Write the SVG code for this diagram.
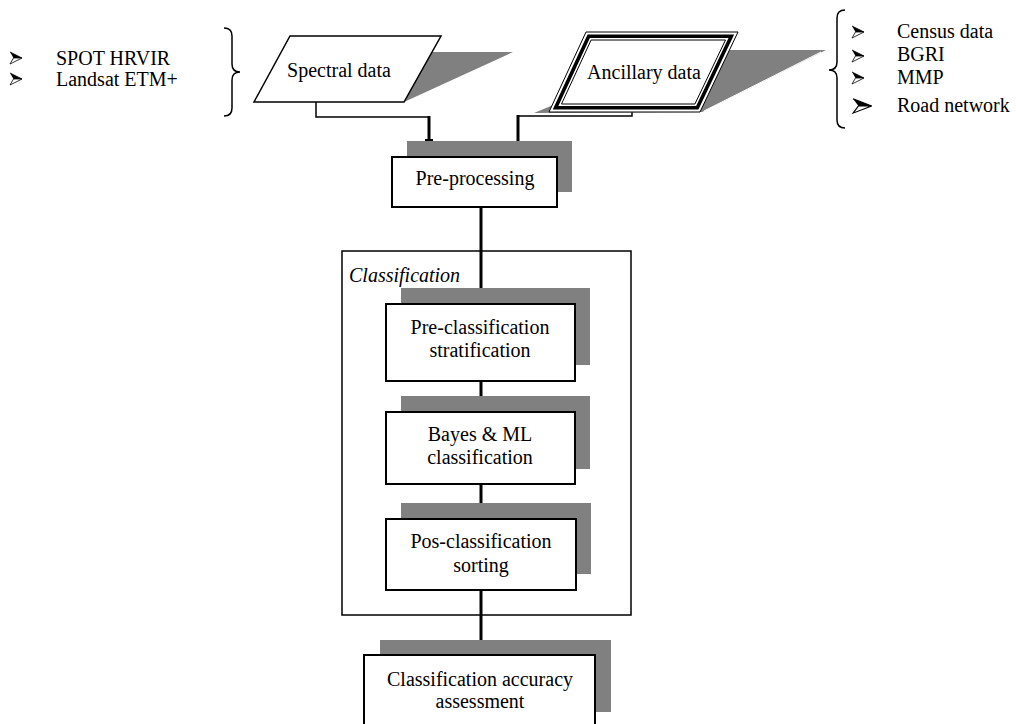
<svg xmlns="http://www.w3.org/2000/svg" xmlns:xlink="http://www.w3.org/1999/xlink" width="1016" height="724" viewBox="0 0 1016 724">
<style>
text{font-family:"Liberation Serif","Times New Roman",serif;font-size:20px;fill:#000}
.c{text-anchor:middle}
.box{fill:#fff;stroke:#000;stroke-width:2}
.sh{fill:#808080;stroke:none}
.ln{fill:none;stroke:#000;stroke-width:1.5}
.thk{fill:none;stroke:#000;stroke-width:3}
</style>
<defs>
<g id="bul">
<path d="M0,-6 L12,0 L3.5,0 Z" fill="#000"/>
<path d="M3.5,0 L12,0 L0,6 Z" fill="#fff" stroke="#000" stroke-width="0.8" stroke-linejoin="miter"/>
<path d="M0,-6 L12,0" stroke="#000" stroke-width="0.8"/>
</g>
</defs>
<rect width="1016" height="724" fill="#fff"/>

<g id="spectral-sources">
<use xlink:href="#bul" x="10" y="58"/>
<use xlink:href="#bul" x="10" y="79"/>
<text x="56" y="65">SPOT HRVIR</text>
<text x="56" y="86">Landsat ETM+</text>
<path class="ln" d="M224,28 Q232,28 232,36 V64 Q232,72 240,72 Q232,72 232,80 V108 Q232,116 224,116"/>
</g>

<g id="ancillary-sources">
<path class="ln" d="M845,10 Q837,10 837,18 V62 Q837,70 829,70 Q837,70 837,78 V120 Q837,128 845,128"/>
<use xlink:href="#bul" x="852" y="32"/>
<use xlink:href="#bul" x="852" y="56"/>
<use xlink:href="#bul" x="852" y="78"/>
<use xlink:href="#bul" transform="translate(853,106) scale(1.55,1.2)"/>
<text x="897" y="38">Census data</text>
<text x="897" y="61">BGRI</text>
<text x="897" y="84">MMP</text>
<text x="897" y="112">Road network</text>
</g>

<g id="connectors">
<path class="ln" d="M316,102 V117 H429"/>
<path class="thk" d="M429,116 V140"/>
<path d="M425,140 H433" stroke="#000" stroke-width="2"/>
<path class="ln" d="M632,103 V116 H517"/>
<path class="thk" d="M518,115 V141"/>
<path class="thk" d="M481,207 V288"/>
<path class="thk" d="M481,381 V396"/>
<path class="thk" d="M481,484 V503"/>
<path class="thk" d="M481,590 V640"/>
</g>

<g id="spectral">
<polygon class="sh" points="420,52 513,52 404,102"/>
<polygon points="290,36 441,36 404,102 254,102" fill="#fff" stroke="#000" stroke-width="1.5"/>
<text class="c" x="339" y="77">Spectral data</text>
</g>

<g id="ancillary">
<polygon class="sh" points="534,113 570,98 620,50 826,50 702,112"/>
<line x1="821" y1="52" x2="704" y2="111" stroke="#fff" stroke-width="1"/>
<polygon points="586,32 738,32 700,112 549,112" fill="#fff" stroke="#000" stroke-width="1"/>
<polygon points="588.7,36.2 731.3,36.2 697.3,107.8 555.6,107.8" fill="none" stroke="#000" stroke-width="3.6"/>
<polygon points="591.1,40 725.5,40 694.9,104 561.5,104" fill="none" stroke="#000" stroke-width="1"/>
<text class="c" x="644" y="79">Ancillary data</text>
</g>

<g id="pre-processing">
<rect class="sh" x="407" y="141" width="165" height="51"/>
<rect class="box" x="392" y="157" width="165" height="50"/>
<text class="c" x="475" y="185">Pre-processing</text>
</g>

<g id="classification">
<rect x="342" y="251" width="289" height="364" fill="none" stroke="#000" stroke-width="1.5"/>
<text x="349" y="282" font-style="italic">Classification</text>
</g>

<g id="pre-classification">
<rect class="sh" x="401" y="288" width="189" height="77"/>
<rect class="box" x="386" y="304" width="189" height="77"/>
<text class="c" x="480" y="334">Pre-classification</text>
<text class="c" x="480" y="357">stratification</text>
</g>

<g id="bayes">
<rect class="sh" x="401" y="396" width="189" height="73"/>
<rect class="box" x="386" y="412" width="189" height="72"/>
<text class="c" x="480" y="441">Bayes &amp; ML</text>
<text class="c" x="480" y="464">classification</text>
</g>

<g id="pos-classification">
<rect class="sh" x="401" y="503" width="190" height="71"/>
<rect class="box" x="386" y="519" width="190" height="71"/>
<text class="c" x="481" y="548">Pos-classification</text>
<text class="c" x="481" y="572">sorting</text>
</g>

<g id="accuracy">
<rect class="sh" x="380" y="640" width="231" height="72"/>
<rect class="box" x="364" y="655" width="231" height="80"/>
<text class="c" x="480" y="686">Classification accuracy</text>
<text class="c" x="480" y="708">assessment</text>
</g>
</svg>
